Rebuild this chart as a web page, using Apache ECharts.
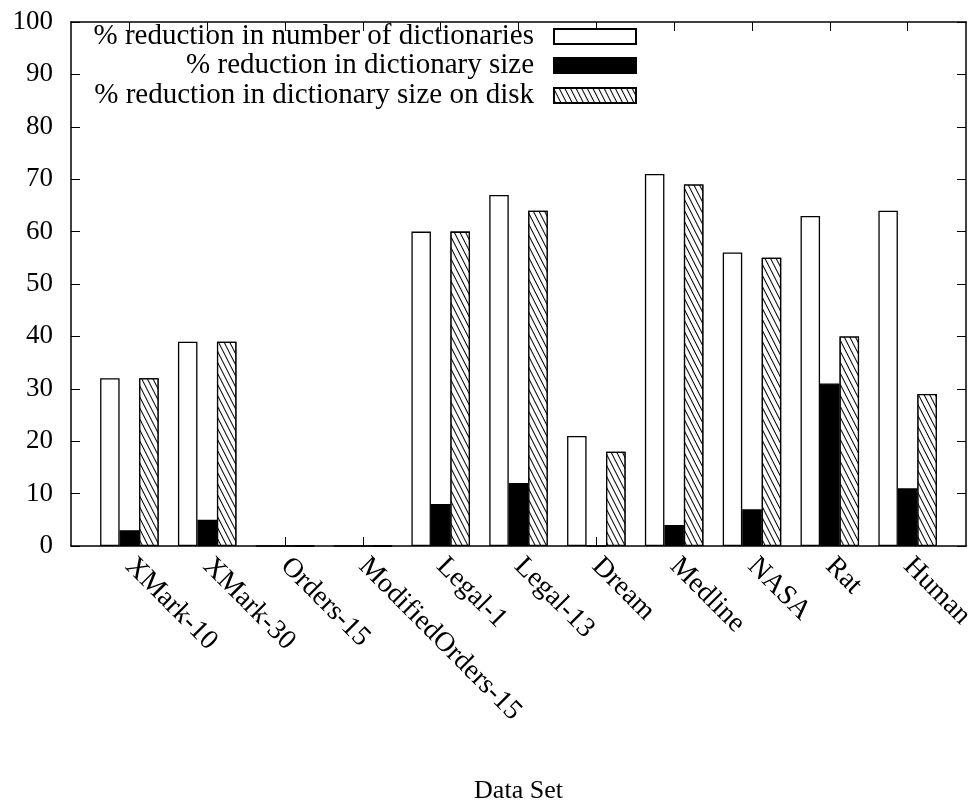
<!DOCTYPE html>
<html>
<head>
<meta charset="utf-8">
<script src="https://cdn.jsdelivr.net/npm/echarts@6/dist/echarts.min.js"></script>
<style>
  html, body { margin: 0; padding: 0; background: #fff; }
  #chart { width: 971px; height: 810px; }
</style>
</head>
<body>
<div id="chart"></div>
<script>
// data sets on the x axis
const categories = ['XMark-10', 'XMark-30', 'Orders-15', 'ModifiedOrders-15', 'Legal-1',
  'Legal-13', 'Dream', 'Medline', 'NASA', 'Rat', 'Human']
const numDicts = [32, 39, 0, 0, 60, 67, 21, 71, 56, 63, 64]
const dictSize = [3, 5, 0, 0, 8, 12, 0, 4, 7, 31, 11]
const diskSize = [32, 39, 0, 0, 60, 64, 18, 69, 55, 40, 29]
const seriesNames = [
  '% reduction in number of dictionaries',
  '% reduction in dictionary size',
  '% reduction in dictionary size on disk'
]

const FONT = 'Liberation Serif'
const positions = categories.map((c, i) => i)
const pairs = vals => vals.map((v, i) => [i, v])

const chart = echarts.init(document.getElementById('chart'))

const tickStyle = { show: true, inside: true, length: 9, lineStyle: { color: '#000', width: 1 } }
const lineStyle = { show: true, onZero: false, lineStyle: { color: '#000', width: 1.5 } }

const hatch = {
  symbol: 'rect',
  symbolSize: 1,
  color: '#000',
  backgroundColor: '#fff',
  dashArrayX: [1, 0],
  dashArrayY: [1, 3.5],
  rotation: 1.1
}

const barBase = {
  type: 'bar',
  barWidth: 19.5,
  barGap: '0%',
  animation: false,
  xAxisIndex: 0,
  yAxisIndex: 0
}

const legendAt = (name, top) => ({
  data: [name],
  right: 334,
  top: top,
  padding: 0,
  align: 'right',
  icon: 'rect',
  itemWidth: 82,
  itemHeight: 15,
  textStyle: { fontFamily: FONT, fontSize: 29, color: '#000', padding: [0, 15, 0, 0] }
})

const option = {
  backgroundColor: '#fff',
  animation: false,
  grid: { left: 71, right: 5, top: 22, bottom: 264, containLabel: false, outerBoundsMode: 'none' },
  legend: [
    legendAt(seriesNames[0], 22),
    legendAt(seriesNames[1], 51),
    legendAt(seriesNames[2], 81)
  ],
  xAxis: [
    {
      type: 'value',
      min: -0.75,
      max: 10.75,
      position: 'bottom',
      splitLine: { show: false },
      axisLine: lineStyle,
      axisTick: Object.assign({ customValues: positions }, tickStyle),
      axisLabel: {
        customValues: positions,
        formatter: v => categories[Math.round(v)],
        rotate: -45,
        margin: 16,
        fontFamily: FONT,
        fontSize: 28,
        color: '#000'
      },
      name: 'Data Set',
      nameLocation: 'middle',
      nameGap: 232,
      nameTextStyle: { fontFamily: FONT, fontSize: 26, color: '#000' }
    },
    {
      type: 'value',
      min: -0.75,
      max: 10.75,
      position: 'top',
      splitLine: { show: false },
      axisLine: lineStyle,
      axisTick: Object.assign({ customValues: positions }, tickStyle),
      axisLabel: { show: false }
    }
  ],
  yAxis: [
    {
      type: 'value',
      min: 0,
      max: 100,
      interval: 10,
      position: 'left',
      splitLine: { show: false },
      axisLine: lineStyle,
      axisTick: tickStyle,
      axisLabel: { margin: 18, fontFamily: FONT, fontSize: 27, color: '#000' }
    },
    {
      type: 'value',
      min: 0,
      max: 100,
      interval: 10,
      position: 'right',
      splitLine: { show: false },
      axisLine: lineStyle,
      axisTick: tickStyle,
      axisLabel: { show: false }
    }
  ],
  series: [
    Object.assign({}, barBase, {
      name: seriesNames[0],
      data: pairs(numDicts),
      itemStyle: { color: '#fff', borderColor: '#000', borderWidth: 1.3 }
    }),
    Object.assign({}, barBase, {
      name: seriesNames[1],
      data: pairs(dictSize),
      itemStyle: { color: '#000', borderColor: '#000', borderWidth: 1.3 }
    }),
    Object.assign({}, barBase, {
      name: seriesNames[2],
      data: pairs(diskSize),
      itemStyle: { color: '#fff', borderColor: '#000', borderWidth: 1.3, decal: hatch }
    })
  ]
}

chart.setOption(option)
</script>
</body>
</html>
